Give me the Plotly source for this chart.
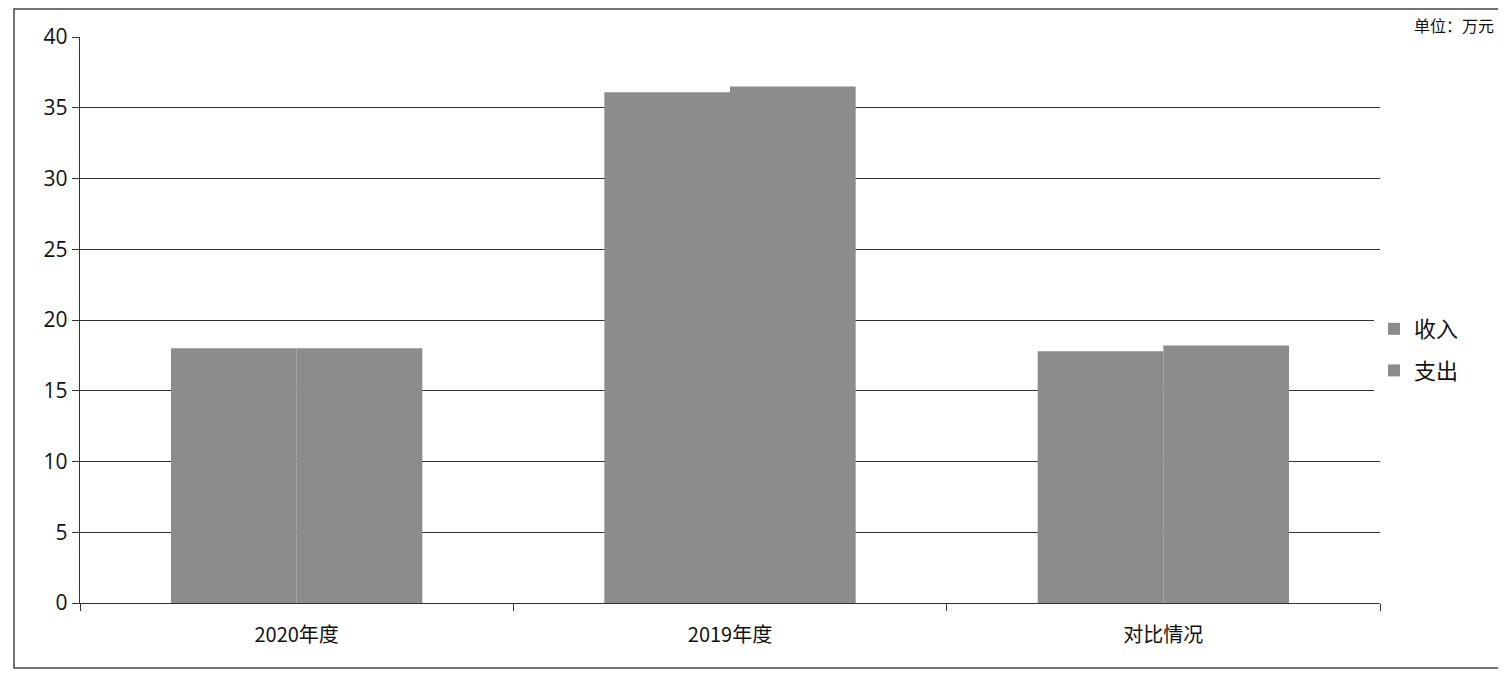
import plotly.graph_objects as go

categories = ["2020年度", "2019年度", "对比情况"]
income = [18.0, 36.1, 17.8]
expense = [18.0, 36.5, 18.2]
series_names = ["收入", "支出"]
y_ticks = [0, 5, 10, 15, 20, 25, 30, 35, 40]

W, H = 1506, 679
ml, mr, mt, mb = 72, 134, 29, 84
PW, PH = W - ml - mr, H - mt - mb

bar_color = "#8c8c8c"
font_family = "Open Sans, Noto Sans CJK SC, sans-serif"


def px_x(x):
    return (x - ml) / PW


def px_y(y):
    return 1 - (y - mt) / PH


fig = go.Figure()
fig.add_trace(go.Bar(x=categories, y=income, name=series_names[0], legendgroup="a",
                     marker=dict(color=bar_color, line=dict(width=0))))
fig.add_trace(go.Bar(x=categories, y=expense, name=series_names[1], legendgroup="b",
                     marker=dict(color=bar_color, line=dict(width=0))))

fig.update_layout(
    width=W, height=H,
    margin=dict(l=ml, r=mr, t=mt, b=mb),
    paper_bgcolor="white", plot_bgcolor="white",
    barmode="group", bargap=0.42, bargroupgap=0,
    font=dict(family=font_family, size=21, color="#111"),
    legend=dict(x=px_x(1366), y=px_y(342), xanchor="left", yanchor="middle",
                font=dict(size=22, family="Noto Sans CJK SC"),
                itemwidth=30, tracegroupgap=10),
    xaxis=dict(type="category", showline=True, linecolor="#333", linewidth=1.4,
               ticks="outside", ticklen=7, tickcolor="#333", tickson="boundaries",
               ticklabelstandoff=14,
               tickfont=dict(size=20, family="Noto Sans CJK SC"), showgrid=False),
    yaxis=dict(range=[0, 40], tickvals=y_ticks, showline=True, linecolor="#333",
               linewidth=1.4, ticks="outside", ticklen=7, tickcolor="#333",
               showgrid=True, gridcolor="#333", gridwidth=1.4, zeroline=False,
               tickfont=dict(size=21)),
)

# outer border of chart area
fig.add_shape(type="rect", xref="paper", yref="paper",
              x0=px_x(6), x1=px_x(1492), y0=px_y(660), y1=px_y(1),
              line=dict(color="#444", width=1.5))

# unit note at top right
fig.add_annotation(text="单位：万元", xref="paper", yref="paper",
                   x=px_x(1488), xanchor="right",
                   y=px_y(3), yanchor="top",
                   showarrow=False, font=dict(size=16, family="Noto Sans CJK SC"))

fig.write_html("out.html")
